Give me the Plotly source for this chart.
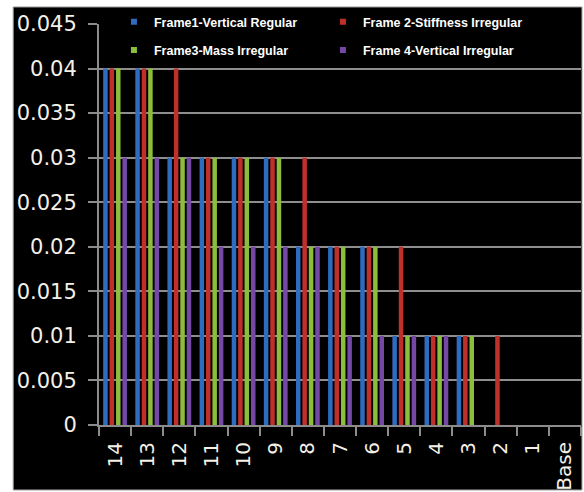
import plotly.graph_objects as go

# Storey labels, from the top storey down to the base
stories = ["14", "13", "12", "11", "10", "9", "8", "7", "6", "5", "4", "3", "2", "1", "Base"]

# Series values per storey
frame1_vertical_regular = [0.04, 0.04, 0.03, 0.03, 0.03, 0.03, 0.02, 0.02, 0.02, 0.01, 0.01, 0.01, 0, 0, 0]
frame2_stiffness_irregular = [0.04, 0.04, 0.04, 0.03, 0.03, 0.03, 0.03, 0.02, 0.02, 0.02, 0.01, 0.01, 0.01, 0, 0]
frame3_mass_irregular = [0.04, 0.04, 0.03, 0.03, 0.03, 0.03, 0.02, 0.02, 0.02, 0.01, 0.01, 0.01, 0, 0, 0]
frame4_vertical_irregular = [0.03, 0.03, 0.03, 0.02, 0.02, 0.02, 0.02, 0.01, 0.01, 0.01, 0.01, 0, 0, 0, 0]

series_names = [
    "Frame1-Vertical Regular",
    "Frame 2-Stiffness Irregular",
    "Frame3-Mass Irregular",
    "Frame 4-Vertical Irregular",
]
series_values = [
    frame1_vertical_regular,
    frame2_stiffness_irregular,
    frame3_mass_irregular,
    frame4_vertical_irregular,
]
series_colors = ["#2f6cc0", "#c0302b", "#8dbd3c", "#7548a6"]
legend_ids = ["legend", "legend", "legend2", "legend2"]

y_ticks = [0, 0.005, 0.01, 0.015, 0.02, 0.025, 0.03, 0.035, 0.04, 0.045]

fig = go.Figure()

for name, vals, color in zip(series_names, series_values, series_colors):
    fig.add_trace(go.Bar(
        x=stories, y=vals, name=name,
        marker=dict(color=color, line=dict(width=0)),
        showlegend=False,
    ))

# Legend entries with small square keys
for name, color, lg in zip(series_names, series_colors, legend_ids):
    fig.add_trace(go.Scatter(
        x=[None], y=[None], mode="markers", name=name,
        marker=dict(symbol="square", size=6, color=color),
        legend=lg,
    ))

y_tick_font = dict(family="DejaVu Sans", size=21, color="#f4f0e8")
x_tick_font = dict(family="DejaVu Sans", size=20, color="#f4f0e8")
legend_font = dict(family="Liberation Sans", size=12.5, color="#ffffff", weight="bold")

legend_common = dict(
    orientation="h", xanchor="left", yanchor="middle",
    bgcolor="rgba(0,0,0,0)", font=legend_font,
    entrywidth=164, entrywidthmode="pixels", itemwidth=30,
)

fig.update_layout(
    width=584, height=492,
    margin=dict(l=99, r=3, t=24, b=67),
    paper_bgcolor="white",
    plot_bgcolor="#404040",
    barmode="group",
    bargap=0.2,
    bargroupgap=0.3,
    legend=dict(x=0.031, y=1.0045, **legend_common),
    legend2=dict(x=0.031, y=0.9345, **legend_common),
    xaxis=dict(
        type="category",
        categoryorder="array", categoryarray=stories,
        tickangle=-90,
        tickfont=x_tick_font,
        ticks="outside", ticklen=9, tickcolor="#8c8c8c", tickwidth=2,
        tickson="boundaries",
        ticklabelstandoff=7,
        showline=True, linecolor="#8c8c8c", linewidth=2,
        showgrid=False,
        automargin=False,
    ),
    yaxis=dict(
        range=[0, 0.045],
        tickvals=y_ticks,
        ticktext=[f"{v:g}" for v in y_ticks],
        tickfont=y_tick_font,
        ticks="outside", ticklen=9, tickcolor="#8c8c8c", tickwidth=2,
        ticklabelstandoff=7,
        showline=True, linecolor="#8c8c8c", linewidth=2,
        showgrid=True, gridcolor="#8e8e8e", gridwidth=2,
        zeroline=False,
        automargin=False,
    ),
    shapes=[dict(
        type="rect", xref="paper", yref="paper",
        x0=-0.178, x1=1.002, y0=-0.162, y1=1.0424,
        fillcolor="black", line=dict(color="#9a9a9a", width=1),
        layer="below",
    )],
)

fig.write_html("out.html")
